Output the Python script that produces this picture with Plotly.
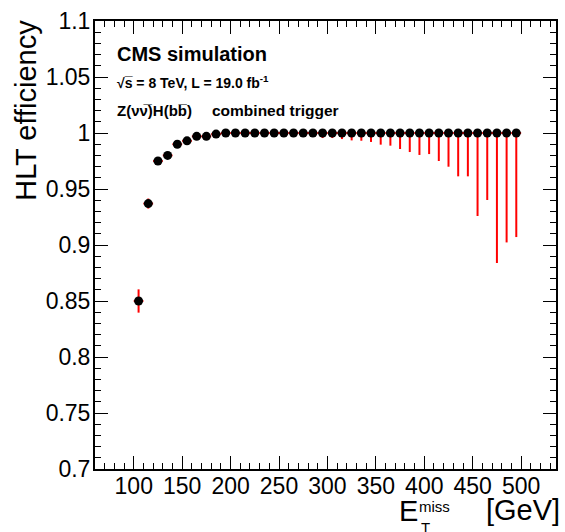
import plotly.graph_objects as go

# ---- data ----
met_bins = [105, 115, 125, 135, 145, 155, 165, 175, 185, 195,
            205, 215, 225, 235, 245, 255, 265, 275, 285, 295,
            305, 315, 325, 335, 345, 355, 365, 375, 385, 395,
            405, 415, 425, 435, 445, 455, 465, 475, 485, 495]
efficiency = [0.850, 0.937, 0.975, 0.980, 0.990, 0.993, 0.997, 0.997, 0.999, 1.0,
              1.0, 1.0, 1.0, 1.0, 1.0, 1.0, 1.0, 1.0, 1.0, 1.0,
              1.0, 1.0, 1.0, 1.0, 1.0, 1.0, 1.0, 1.0, 1.0, 1.0,
              1.0, 1.0, 1.0, 1.0, 1.0, 1.0, 1.0, 1.0, 1.0, 1.0]
err_up = [0.0104, 0.0045, 0.002, 0.002, 0.0015, 0.0015, 0.001, 0.001, 0.0008, 0.0,
          0.0, 0.0, 0.0, 0.0, 0.0, 0.0, 0.0, 0.0, 0.0, 0.0,
          0.0, 0.0, 0.0, 0.0, 0.0, 0.0, 0.0, 0.0, 0.0, 0.0,
          0.0, 0.0, 0.0, 0.0, 0.0, 0.0, 0.0, 0.0, 0.0, 0.0]
err_down = [0.0104, 0.0045, 0.002, 0.002, 0.0015, 0.0015, 0.001, 0.001, 0.0008, 0.0004,
            0.0004, 0.0004, 0.0005, 0.0005, 0.0005, 0.0006, 0.0006, 0.0007, 0.001, 0.0045,
            0.0045, 0.0054, 0.0066, 0.0069, 0.008, 0.0104, 0.0113, 0.0143, 0.017, 0.0196,
            0.0188, 0.025, 0.0301, 0.0387, 0.0387, 0.0741, 0.0598, 0.1161, 0.0977, 0.0929]
bin_half_width = [5] * len(met_bins)

x_tick_vals = [100, 150, 200, 250, 300, 350, 400, 450, 500]
y_tick_vals = [0.7, 0.75, 0.8, 0.85, 0.9, 0.95, 1.0, 1.05, 1.1]
y_tick_text = ["0.7", "0.75", "0.8", "0.85", "0.9", "0.95", "1", "1.05", "1.1"]

# ---- layout geometry ----
W, H = 565, 532
ML, MR, MT, MB = 95, 7, 21, 63
PW, PH = W - ML - MR, H - MT - MB


def px(xp):
    return (xp - ML) / PW


def py(yp):
    return (H - MB - yp) / PH


FONT = "Liberation Sans, Arial, Helvetica, sans-serif"

fig = go.Figure()
fig.add_trace(go.Scatter(
    x=met_bins, y=efficiency, mode="markers",
    marker=dict(color="black", size=9, symbol="circle"),
    error_y=dict(type="data", symmetric=False, array=err_up, arrayminus=err_down,
                 color="#ff0000", thickness=2, width=0),
    error_x=dict(type="data", array=bin_half_width, color="#ff0000", thickness=2, width=0),
    showlegend=False,
))

axis_common = dict(
    showline=True, linecolor="black", linewidth=2, mirror="allticks",
    ticks="inside", ticklen=13, tickwidth=1, tickcolor="black",
    showgrid=False, zeroline=False,
    tickfont=dict(family=FONT, size=23, color="black"),
)

fig.update_layout(
    width=W, height=H,
    margin=dict(l=ML, r=MR, t=MT, b=MB, pad=0),
    paper_bgcolor="white", plot_bgcolor="white",
    xaxis=dict(range=[60, 536], tickvals=x_tick_vals,
               minor=dict(dtick=10, tick0=0, ticks="inside", ticklen=6, tickcolor="black", tickwidth=1),
               ticklabelstandoff=-5, **axis_common),
    yaxis=dict(range=[0.7, 1.1], tickvals=y_tick_vals, ticktext=y_tick_text,
               minor=dict(dtick=0.01, tick0=0.7, ticks="inside", ticklen=6, tickcolor="black", tickwidth=1),
               ticklabelstandoff=-2, **axis_common),
    font=dict(family=FONT, color="black"),
)

ann = []
# y-axis title
ann.append(dict(text="HLT efficiency", textangle=-90, x=px(26), y=py(18),
                xanchor="center", yanchor="top", font=dict(size=29)))
# x-axis title pieces
ann.append(dict(text="E", x=px(398), y=py(511), xanchor="left", yanchor="middle", font=dict(size=29)))
ann.append(dict(text="miss", x=px(418), y=py(506), xanchor="left", yanchor="middle", font=dict(size=15)))
ann.append(dict(text="T", x=px(420), y=py(527), xanchor="left", yanchor="middle", font=dict(size=15)))
ann.append(dict(text="[GeV]", x=px(486), y=py(510), xanchor="left", yanchor="middle", font=dict(size=29)))
# labels in the plot
ann.append(dict(text="<b>CMS simulation</b>", x=px(115), y=py(54), xanchor="left", yanchor="middle",
                font=dict(size=20)))
ann.append(dict(text="<b>√s\u0305 = 8 TeV, L = 19.0 fb<sup>-1</sup></b>", x=px(115), y=py(82),
                xanchor="left", yanchor="middle", font=dict(size=14)))
ann.append(dict(text="<b>Z(νν\u0305)H(bb\u0305)</b>", x=px(115), y=py(110),
                xanchor="left", yanchor="middle", font=dict(size=15)))
ann.append(dict(text="<b>combined trigger</b>", x=px(210), y=py(110),
                xanchor="left", yanchor="middle", font=dict(size=15.5)))

for a in ann:
    a.update(xref="paper", yref="paper", showarrow=False)
    a.setdefault("font", {})
    a["font"].update(family=FONT, color="black")
fig.update_layout(annotations=ann)

fig.write_html("out.html", config={"displayModeBar": False},
               post_script="document.body.style.margin='0';document.body.style.padding='0';")
